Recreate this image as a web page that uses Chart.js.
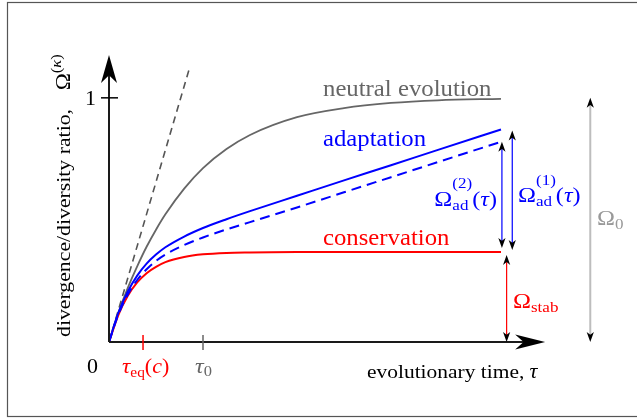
<!DOCTYPE html>
<html>
<head>
<meta charset="utf-8">
<script src="https://cdn.jsdelivr.net/npm/chart.js@4/dist/chart.umd.min.js"></script>
<style>
  body { margin: 0; background: #fff; }
  canvas { display: block; }
</style>
</head>
<body>
<canvas id="myChart" width="637" height="418"></canvas>
<script>
// sampled curves, tau in units of tau0
const tau          = [0, 0.1, 0.2, 0.3, 0.4, 0.5, 0.6, 0.8, 1.0, 1.25, 1.5, 2, 2.5, 3, 3.5, 4.17];
const neutral      = [0, 0.120, 0.222, 0.310, 0.390, 0.460, 0.523, 0.628, 0.712, 0.790, 0.848, 0.921, 0.958, 0.979, 0.990, 0.996];
const adaptation   = [0, 0.120, 0.207, 0.272, 0.321, 0.358, 0.388, 0.432, 0.467, 0.503, 0.536, 0.599, 0.662, 0.724, 0.787, 0.870];
const adaptation2  = [0, 0.113, 0.194, 0.254, 0.298, 0.332, 0.358, 0.397, 0.428, 0.461, 0.491, 0.551, 0.613, 0.675, 0.737, 0.820];
const conservation = [0, 0.111, 0.189, 0.244, 0.282, 0.308, 0.327, 0.348, 0.359, 0.365, 0.367, 0.369, 0.369, 0.369, 0.369, 0.369];
// initial slope of the neutral curve
const tangentX = [0, 0.851];
const tangentY = [0, 1.115];
const omega0 = 1;
const tauEq = 0.362;
const tau0 = 1;

const BLUE = '#0000ff', RED = '#ff0000', GRAY = '#666666', LIGHT = '#bdbdbd';
const SX = 1.1; // widen the serif a little

function pts(xs, ys) {
  return xs.map((x, i) => ({x: x, y: ys[i]}));
}

const font = (s, it) => (it ? 'italic ' : '') + s + 'px "Liberation Serif", serif';

function partWidth(ctx, p) {
  if (p.sp) return p.sp;
  if (p.sup || p.sub) {
    let w = 0;
    [p.sup, p.sub].forEach(q => {
      if (!q) return;
      ctx.font = font(q.s, q.i);
      w = Math.max(w, ctx.measureText(q.t).width);
    });
    return w;
  }
  ctx.font = font(p.s, p.i);
  return ctx.measureText(p.t).width;
}

// draws a run of text pieces (plain, italic, sub/superscripts)
function put(ctx, x, y, parts, color, align, rot) {
  ctx.save();
  ctx.translate(x, y);
  if (rot) ctx.rotate(rot);
  ctx.scale(SX, 1);
  ctx.fillStyle = color;
  ctx.textBaseline = 'alphabetic';
  ctx.textAlign = 'left';
  const ws = parts.map(p => partWidth(ctx, p));
  const total = ws.reduce((a, b) => a + b, 0);
  let cx = 0;
  if (align === 'right') cx = -total;
  if (align === 'center') cx = -total / 2;
  parts.forEach((p, i) => {
    if (p.sp) { cx += p.sp; return; }
    if (p.sup || p.sub) {
      if (p.sup) { ctx.font = font(p.sup.s, p.sup.i); ctx.fillText(p.sup.t, cx, p.supDy); }
      if (p.sub) { ctx.font = font(p.sub.s, p.sub.i); ctx.fillText(p.sub.t, cx, p.subDy); }
    } else {
      ctx.font = font(p.s, p.i);
      ctx.fillText(p.t, cx, p.dy || 0);
    }
    cx += ws[i];
  });
  ctx.restore();
}

// arrow head with a notched back, tip at (x, y), pointing along angle a
function head(ctx, x, y, a, len, half, color) {
  const dx = Math.cos(a), dy = Math.sin(a);
  const nx = -dy, ny = dx;
  ctx.save();
  ctx.fillStyle = color;
  ctx.beginPath();
  ctx.moveTo(x, y);
  ctx.lineTo(x - len * dx + half * nx, y - len * dy + half * ny);
  ctx.lineTo(x - 0.72 * len * dx, y - 0.72 * len * dy);
  ctx.lineTo(x - len * dx - half * nx, y - len * dy - half * ny);
  ctx.closePath();
  ctx.fill();
  ctx.restore();
}

function vline(ctx, x, y1, y2, color, w) {
  ctx.save();
  ctx.strokeStyle = color;
  ctx.lineWidth = w;
  ctx.beginPath();
  ctx.moveTo(x, y1);
  ctx.lineTo(x, y2);
  ctx.stroke();
  ctx.restore();
}

// double arrow between two values at a given tau
function span(ctx, x, yTop, yBot, color, w) {
  vline(ctx, x, yTop + 6, yBot - 6, color, w);
  head(ctx, x, yTop, -Math.PI / 2, 10, 3.6, '#000');
  head(ctx, x, yBot, Math.PI / 2, 10, 3.6, '#000');
}

const sketch = {
  id: 'sketch',
  afterDraw(chart) {
    const ctx = chart.ctx;
    const xs = chart.scales.x, ys = chart.scales.y;
    const px = v => xs.getPixelForValue(v);
    const py = v => ys.getPixelForValue(v);
    const ox = px(0), oy = py(0);
    const last = tau.length - 1;

    // frame
    ctx.save();
    ctx.strokeStyle = '#555';
    ctx.lineWidth = 1.2;
    ctx.strokeRect(7.5, 2.5, 640, 414);
    ctx.restore();

    // axes
    ctx.save();
    ctx.strokeStyle = '#1a1a1a';
    ctx.lineWidth = 2;
    ctx.beginPath();
    ctx.moveTo(ox, oy);
    ctx.lineTo(px(4.5), oy);
    ctx.moveTo(ox, oy);
    ctx.lineTo(ox, py(1.12));
    ctx.stroke();
    ctx.restore();
    head(ctx, px(4.64), oy, 0, 30, 7.5, '#000');
    head(ctx, ox, py(1.175), -Math.PI / 2, 28, 8, '#000');

    // ticks
    ctx.save();
    ctx.lineWidth = 1.5;
    ctx.strokeStyle = '#000';
    ctx.beginPath();
    ctx.moveTo(ox - 8, py(1)); ctx.lineTo(ox + 9, py(1));
    ctx.stroke();
    ctx.strokeStyle = RED;
    ctx.beginPath();
    ctx.moveTo(px(tauEq), oy - 7); ctx.lineTo(px(tauEq), oy + 8);
    ctx.stroke();
    ctx.strokeStyle = GRAY;
    ctx.beginPath();
    ctx.moveTo(px(tau0), oy - 7); ctx.lineTo(px(tau0), oy + 8);
    ctx.stroke();
    ctx.restore();

    // tick labels
    put(ctx, 87, 373, [{t: '0', s: 20}], '#000');
    put(ctx, 85, 105, [{t: '1', s: 20}], '#000');
    put(ctx, px(tauEq) - 21, 373, [
      {t: 'τ', s: 21, i: true},
      {sub: {t: 'eq', s: 14}, subDy: 4},
      {t: '(', s: 20}, {t: 'c', s: 20, i: true}, {t: ')', s: 20}
    ], RED);
    put(ctx, px(tau0) - 8, 373, [
      {t: 'τ', s: 22, i: true},
      {sub: {t: '0', s: 15}, subDy: 3}
    ], GRAY);

    // axis titles
    put(ctx, 367, 378, [{t: 'evolutionary time, ', s: 19.5}, {t: 'τ', s: 20, i: true}], '#000');
    put(ctx, 70, 337, [
      {t: 'divergence/diversity ratio,', s: 19.8},
      {sp: 17},
      {t: 'Ω', s: 21},
      {sup: {t: '(', s: 15}, supDy: -9},
      {sup: {t: 'κ', s: 15, i: true}, supDy: -9},
      {sup: {t: ')', s: 15}, supDy: -9}
    ], '#000', 'left', -Math.PI / 2);

    // curve names
    put(ctx, 323, 96, [{t: 'neutral evolution', s: 22.5}], GRAY);
    put(ctx, 323, 146, [{t: 'adaptation', s: 22.5}], BLUE);
    put(ctx, 323, 245, [{t: 'conservation', s: 22.5}], RED);

    // spans at the end of the curves
    const yRed = py(conservation[last]);
    span(ctx, px(4.18), py(adaptation2[last]), yRed - 4, BLUE, 1.2);
    span(ctx, px(4.29), py(adaptation[last]) + 1, yRed - 2, BLUE, 1.2);
    span(ctx, px(4.23), yRed + 3, oy, RED, 1.2);
    span(ctx, px(5.12), py(omega0), oy, LIGHT, 2);

    put(ctx, 497, 206, [
      {t: 'Ω', s: 22},
      {sup: {t: '(2)', s: 15.5}, sub: {t: 'ad', s: 15.5}, supDy: -18, subDy: 4},
      {t: '(', s: 22}, {t: 'τ', s: 22, i: true}, {t: ')', s: 22}
    ], BLUE, 'right');
    put(ctx, 518, 202, [
      {t: 'Ω', s: 22},
      {sup: {t: '(1)', s: 15.5}, sub: {t: 'ad', s: 15.5}, supDy: -17, subDy: 4},
      {t: '(', s: 22}, {t: 'τ', s: 22, i: true}, {t: ')', s: 22}
    ], BLUE);
    put(ctx, 513, 308, [
      {t: 'Ω', s: 22},
      {sub: {t: 'stab', s: 15.5}, subDy: 4}
    ], RED);
    put(ctx, 597, 225, [
      {t: 'Ω', s: 22},
      {sub: {t: '0', s: 15.5}, subDy: 4}
    ], '#999');
  }
};

new Chart(document.getElementById('myChart'), {
  type: 'line',
  data: {
    datasets: [
      {data: pts(tau, adaptation), borderColor: BLUE, borderWidth: 2},
      {data: pts(tau, adaptation2), borderColor: BLUE, borderWidth: 2, borderDash: [10, 6]},
      {data: pts(tau, conservation), borderColor: RED, borderWidth: 2},
      {data: pts(tau, neutral), borderColor: GRAY, borderWidth: 1.8},
      {data: pts(tangentX, tangentY), borderColor: '#555', borderWidth: 1.6, borderDash: [7, 5], cubicInterpolationMode: 'default', tension: 0}
    ]
  },
  options: {
    responsive: false,
    animation: false,
    events: [],
    layout: {padding: {left: 109, right: 11, top: 49, bottom: 76}},
    elements: {
      point: {radius: 0},
      line: {cubicInterpolationMode: 'monotone', fill: false}
    },
    plugins: {legend: {display: false}, tooltip: {enabled: false}},
    scales: {
      x: {type: 'linear', min: 0, max: 5.5, display: false},
      y: {type: 'linear', min: 0, max: 1.2, display: false}
    }
  },
  plugins: [sketch]
});
</script>
</body>
</html>
